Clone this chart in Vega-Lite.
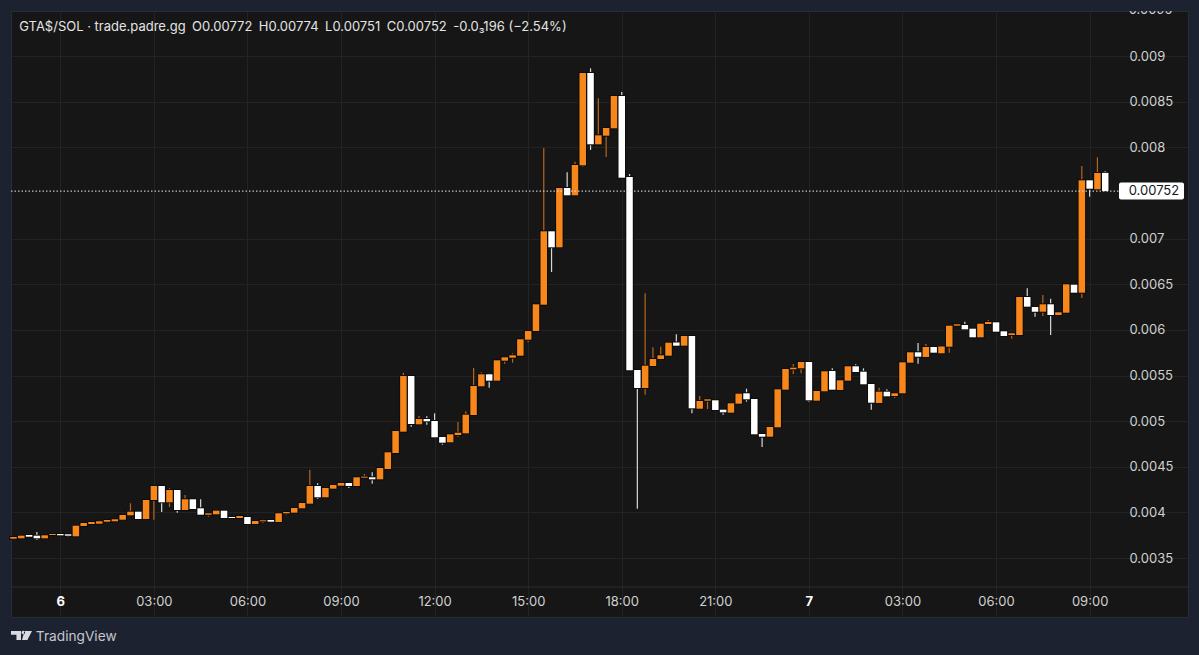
{
  "$schema": "https://vega.github.io/schema/vega-lite/v6.json",
  "width": 1177,
  "height": 606,
  "autosize": "none",
  "padding": {"left": 11, "top": 11, "right": 11, "bottom": 38},
  "background": "#1c2230",
  "view": {"fill": "#161616", "stroke": "#282c36"},
  "datasets": {
    "candles": [
      {"t":"2025-10-05T22:30:00Z","o":0.0037130,"h":0.0037426,"l":0.0037021,"c":0.0037317},
      {"t":"2025-10-05T22:45:00Z","o":0.0037174,"h":0.0037459,"l":0.0037174,"c":0.0037459},
      {"t":"2025-10-05T23:00:00Z","o":0.0037536,"h":0.0037536,"l":0.0037349,"c":0.0037349},
      {"t":"2025-10-05T23:15:00Z","o":0.0037459,"h":0.0037864,"l":0.0036988,"c":0.0037174},
      {"t":"2025-10-05T23:30:00Z","o":0.0037174,"h":0.0037503,"l":0.0037097,"c":0.0037503},
      {"t":"2025-10-05T23:45:00Z","o":0.0037536,"h":0.0037722,"l":0.0037503,"c":0.0037645},
      {"t":"2025-10-06T00:00:00Z","o":0.0037645,"h":0.0037645,"l":0.0037503,"c":0.0037503},
      {"t":"2025-10-06T00:15:00Z","o":0.0037612,"h":0.0037612,"l":0.0037349,"c":0.0037459},
      {"t":"2025-10-06T00:30:00Z","o":0.0037393,"h":0.0038554,"l":0.0037317,"c":0.0038554},
      {"t":"2025-10-06T00:45:00Z","o":0.0038521,"h":0.0038850,"l":0.0038521,"c":0.0038850},
      {"t":"2025-10-06T01:00:00Z","o":0.0038740,"h":0.0038959,"l":0.0038740,"c":0.0038959},
      {"t":"2025-10-06T01:15:00Z","o":0.0038773,"h":0.0039179,"l":0.0038740,"c":0.0039036},
      {"t":"2025-10-06T01:30:00Z","o":0.0038992,"h":0.0039179,"l":0.0038883,"c":0.0039179},
      {"t":"2025-10-06T01:45:00Z","o":0.0039036,"h":0.0039255,"l":0.0039036,"c":0.0039255},
      {"t":"2025-10-06T02:00:00Z","o":0.0039211,"h":0.0039726,"l":0.0039146,"c":0.0039726},
      {"t":"2025-10-06T02:15:00Z","o":0.0039693,"h":0.0041008,"l":0.0039649,"c":0.0040088},
      {"t":"2025-10-06T02:30:00Z","o":0.0040088,"h":0.0040088,"l":0.0039211,"c":0.0039288},
      {"t":"2025-10-06T02:45:00Z","o":0.0039288,"h":0.0041369,"l":0.0039211,"c":0.0041369},
      {"t":"2025-10-06T03:00:00Z","o":0.0041369,"h":0.0042903,"l":0.0039211,"c":0.0042903},
      {"t":"2025-10-06T03:15:00Z","o":0.0042903,"h":0.0043012,"l":0.0040055,"c":0.0041117},
      {"t":"2025-10-06T03:30:00Z","o":0.0041117,"h":0.0042651,"l":0.0040602,"c":0.0042464},
      {"t":"2025-10-06T03:45:00Z","o":0.0042464,"h":0.0042464,"l":0.0039978,"c":0.0040274},
      {"t":"2025-10-06T04:00:00Z","o":0.0040274,"h":0.0041917,"l":0.0040274,"c":0.0041446},
      {"t":"2025-10-06T04:15:00Z","o":0.0041446,"h":0.0041446,"l":0.0040383,"c":0.0040383},
      {"t":"2025-10-06T04:30:00Z","o":0.0040460,"h":0.0041446,"l":0.0039759,"c":0.0039759},
      {"t":"2025-10-06T04:45:00Z","o":0.0039759,"h":0.0039912,"l":0.0039540,"c":0.0039912},
      {"t":"2025-10-06T05:00:00Z","o":0.0039803,"h":0.0040274,"l":0.0039803,"c":0.0040197},
      {"t":"2025-10-06T05:15:00Z","o":0.0040197,"h":0.0040197,"l":0.0039398,"c":0.0039398},
      {"t":"2025-10-06T05:30:00Z","o":0.0039507,"h":0.0039617,"l":0.0039398,"c":0.0039398},
      {"t":"2025-10-06T05:45:00Z","o":0.0039398,"h":0.0039617,"l":0.0039398,"c":0.0039617},
      {"t":"2025-10-06T06:00:00Z","o":0.0039507,"h":0.0039507,"l":0.0038740,"c":0.0038740},
      {"t":"2025-10-06T06:15:00Z","o":0.0038740,"h":0.0039146,"l":0.0038740,"c":0.0039069},
      {"t":"2025-10-06T06:30:00Z","o":0.0039036,"h":0.0039255,"l":0.0038850,"c":0.0039146},
      {"t":"2025-10-06T06:45:00Z","o":0.0039179,"h":0.0039255,"l":0.0038927,"c":0.0038992},
      {"t":"2025-10-06T07:00:00Z","o":0.0038959,"h":0.0040022,"l":0.0038959,"c":0.0039912},
      {"t":"2025-10-06T07:15:00Z","o":0.0039912,"h":0.0040131,"l":0.0039759,"c":0.0040055},
      {"t":"2025-10-06T07:30:00Z","o":0.0039978,"h":0.0040493,"l":0.0039978,"c":0.0040493},
      {"t":"2025-10-06T07:45:00Z","o":0.0040460,"h":0.0041117,"l":0.0040460,"c":0.0041041},
      {"t":"2025-10-06T08:00:00Z","o":0.0040964,"h":0.0044688,"l":0.0040964,"c":0.0042903},
      {"t":"2025-10-06T08:15:00Z","o":0.0042903,"h":0.0043198,"l":0.0041479,"c":0.0041665},
      {"t":"2025-10-06T08:30:00Z","o":0.0041665,"h":0.0042760,"l":0.0041665,"c":0.0042683},
      {"t":"2025-10-06T08:45:00Z","o":0.0042607,"h":0.0043089,"l":0.0042607,"c":0.0043012},
      {"t":"2025-10-06T09:00:00Z","o":0.0042935,"h":0.0043308,"l":0.0042935,"c":0.0043231},
      {"t":"2025-10-06T09:15:00Z","o":0.0043231,"h":0.0043231,"l":0.0042683,"c":0.0042903},
      {"t":"2025-10-06T09:30:00Z","o":0.0042903,"h":0.0043855,"l":0.0042903,"c":0.0043855},
      {"t":"2025-10-06T09:45:00Z","o":0.0043812,"h":0.0044217,"l":0.0043812,"c":0.0043921},
      {"t":"2025-10-06T10:00:00Z","o":0.0043855,"h":0.0044403,"l":0.0043154,"c":0.0043636},
      {"t":"2025-10-06T10:15:00Z","o":0.0043636,"h":0.0044874,"l":0.0043636,"c":0.0044874},
      {"t":"2025-10-06T10:30:00Z","o":0.0044765,"h":0.0046594,"l":0.0044765,"c":0.0046594},
      {"t":"2025-10-06T10:45:00Z","o":0.0046517,"h":0.0048927,"l":0.0046517,"c":0.0048927},
      {"t":"2025-10-06T11:00:00Z","o":0.0048850,"h":0.0055312,"l":0.0048850,"c":0.0054951},
      {"t":"2025-10-06T11:15:00Z","o":0.0054951,"h":0.0055060,"l":0.0049398,"c":0.0049693},
      {"t":"2025-10-06T11:30:00Z","o":0.0049660,"h":0.0050570,"l":0.0049584,"c":0.0050241},
      {"t":"2025-10-06T11:45:00Z","o":0.0050241,"h":0.0050537,"l":0.0049617,"c":0.0049989},
      {"t":"2025-10-06T12:00:00Z","o":0.0050022,"h":0.0050865,"l":0.0048237,"c":0.0048237},
      {"t":"2025-10-06T12:15:00Z","o":0.0048270,"h":0.0048379,"l":0.0047426,"c":0.0047645},
      {"t":"2025-10-06T12:30:00Z","o":0.0047689,"h":0.0048565,"l":0.0047689,"c":0.0048565},
      {"t":"2025-10-06T12:45:00Z","o":0.0048489,"h":0.0049912,"l":0.0048302,"c":0.0048740},
      {"t":"2025-10-06T13:00:00Z","o":0.0048675,"h":0.0051084,"l":0.0048565,"c":0.0050712},
      {"t":"2025-10-06T13:15:00Z","o":0.0050679,"h":0.0055827,"l":0.0050679,"c":0.0053856},
      {"t":"2025-10-06T13:30:00Z","o":0.0053823,"h":0.0055356,"l":0.0053823,"c":0.0055137},
      {"t":"2025-10-06T13:45:00Z","o":0.0055137,"h":0.0055247,"l":0.0053669,"c":0.0054436},
      {"t":"2025-10-06T14:00:00Z","o":0.0054436,"h":0.0056670,"l":0.0054436,"c":0.0056670},
      {"t":"2025-10-06T14:15:00Z","o":0.0056627,"h":0.0056999,"l":0.0056298,"c":0.0056999},
      {"t":"2025-10-06T14:30:00Z","o":0.0056955,"h":0.0057437,"l":0.0056408,"c":0.0057218},
      {"t":"2025-10-06T14:45:00Z","o":0.0057174,"h":0.0058971,"l":0.0057174,"c":0.0058971},
      {"t":"2025-10-06T15:00:00Z","o":0.0058927,"h":0.0059880,"l":0.0058642,"c":0.0059880},
      {"t":"2025-10-06T15:15:00Z","o":0.0059880,"h":0.0062804,"l":0.0059880,"c":0.0062804},
      {"t":"2025-10-06T15:30:00Z","o":0.0062761,"h":0.0079923,"l":0.0062761,"c":0.0070800},
      {"t":"2025-10-06T15:45:00Z","o":0.0070800,"h":0.0070800,"l":0.0066342,"c":0.0069047},
      {"t":"2025-10-06T16:00:00Z","o":0.0069047,"h":0.0075619,"l":0.0069047,"c":0.0075542},
      {"t":"2025-10-06T16:15:00Z","o":0.0075542,"h":0.0077262,"l":0.0074743,"c":0.0074743},
      {"t":"2025-10-06T16:30:00Z","o":0.0074743,"h":0.0078423,"l":0.0074743,"c":0.0078062},
      {"t":"2025-10-06T16:45:00Z","o":0.0078029,"h":0.0088138,"l":0.0077875,"c":0.0088138},
      {"t":"2025-10-06T17:00:00Z","o":0.0088138,"h":0.0088653,"l":0.0079705,"c":0.0080328},
      {"t":"2025-10-06T17:15:00Z","o":0.0080328,"h":0.0085367,"l":0.0080328,"c":0.0081314},
      {"t":"2025-10-06T17:30:00Z","o":0.0081271,"h":0.0082114,"l":0.0078938,"c":0.0082114},
      {"t":"2025-10-06T17:45:00Z","o":0.0082081,"h":0.0085619,"l":0.0082081,"c":0.0085619},
      {"t":"2025-10-06T18:00:00Z","o":0.0085619,"h":0.0086057,"l":0.0076670,"c":0.0076670},
      {"t":"2025-10-06T18:15:00Z","o":0.0076747,"h":0.0077076,"l":0.0055575,"c":0.0055575},
      {"t":"2025-10-06T18:30:00Z","o":0.0055608,"h":0.0055608,"l":0.0040416,"c":0.0053636},
      {"t":"2025-10-06T18:45:00Z","o":0.0053636,"h":0.0064009,"l":0.0052903,"c":0.0056079},
      {"t":"2025-10-06T19:00:00Z","o":0.0056046,"h":0.0058094,"l":0.0056046,"c":0.0056813},
      {"t":"2025-10-06T19:15:00Z","o":0.0056813,"h":0.0058160,"l":0.0056813,"c":0.0057218},
      {"t":"2025-10-06T19:30:00Z","o":0.0057174,"h":0.0058598,"l":0.0057174,"c":0.0058598},
      {"t":"2025-10-06T19:45:00Z","o":0.0058620,"h":0.0059518,"l":0.0058270,"c":0.0058270},
      {"t":"2025-10-06T20:00:00Z","o":0.0058270,"h":0.0059332,"l":0.0058270,"c":0.0059332},
      {"t":"2025-10-06T20:15:00Z","o":0.0059332,"h":0.0059332,"l":0.0050865,"c":0.0051413},
      {"t":"2025-10-06T20:30:00Z","o":0.0051369,"h":0.0052760,"l":0.0051369,"c":0.0052213},
      {"t":"2025-10-06T20:45:00Z","o":0.0052245,"h":0.0052432,"l":0.0051336,"c":0.0052400},
      {"t":"2025-10-06T21:00:00Z","o":0.0052289,"h":0.0052289,"l":0.0051227,"c":0.0051227},
      {"t":"2025-10-06T21:15:00Z","o":0.0051260,"h":0.0051260,"l":0.0050712,"c":0.0050975},
      {"t":"2025-10-06T21:30:00Z","o":0.0050931,"h":0.0051961,"l":0.0050931,"c":0.0051961},
      {"t":"2025-10-06T21:45:00Z","o":0.0051917,"h":0.0053012,"l":0.0051917,"c":0.0053012},
      {"t":"2025-10-06T22:00:00Z","o":0.0053056,"h":0.0053560,"l":0.0052136,"c":0.0052399},
      {"t":"2025-10-06T22:15:00Z","o":0.0052432,"h":0.0052432,"l":0.0048565,"c":0.0048565},
      {"t":"2025-10-06T22:30:00Z","o":0.0048598,"h":0.0048598,"l":0.0047174,"c":0.0048302},
      {"t":"2025-10-06T22:45:00Z","o":0.0048302,"h":0.0049365,"l":0.0048302,"c":0.0049365},
      {"t":"2025-10-06T23:00:00Z","o":0.0049332,"h":0.0053494,"l":0.0049332,"c":0.0053494},
      {"t":"2025-10-06T23:15:00Z","o":0.0053450,"h":0.0055718,"l":0.0053450,"c":0.0055718},
      {"t":"2025-10-06T23:30:00Z","o":0.0055685,"h":0.0056265,"l":0.0055170,"c":0.0055860},
      {"t":"2025-10-06T23:45:00Z","o":0.0055794,"h":0.0056484,"l":0.0055247,"c":0.0056484},
      {"t":"2025-10-07T00:00:00Z","o":0.0056484,"h":0.0056484,"l":0.0052136,"c":0.0052289},
      {"t":"2025-10-07T00:15:00Z","o":0.0052245,"h":0.0053308,"l":0.0052245,"c":0.0053308},
      {"t":"2025-10-07T00:30:00Z","o":0.0053275,"h":0.0055465,"l":0.0053275,"c":0.0055465},
      {"t":"2025-10-07T00:45:00Z","o":0.0055498,"h":0.0055794,"l":0.0053450,"c":0.0053450},
      {"t":"2025-10-07T01:00:00Z","o":0.0053417,"h":0.0054480,"l":0.0053417,"c":0.0054480},
      {"t":"2025-10-07T01:15:00Z","o":0.0054436,"h":0.0056013,"l":0.0054436,"c":0.0056013},
      {"t":"2025-10-07T01:30:00Z","o":0.0056013,"h":0.0056232,"l":0.0055389,"c":0.0055389},
      {"t":"2025-10-07T01:45:00Z","o":0.0055422,"h":0.0055794,"l":0.0054042,"c":0.0054042},
      {"t":"2025-10-07T02:00:00Z","o":0.0054075,"h":0.0054075,"l":0.0051260,"c":0.0052026},
      {"t":"2025-10-07T02:15:00Z","o":0.0051993,"h":0.0053669,"l":0.0051993,"c":0.0053231},
      {"t":"2025-10-07T02:30:00Z","o":0.0053231,"h":0.0053494,"l":0.0052727,"c":0.0052727},
      {"t":"2025-10-07T02:45:00Z","o":0.0052760,"h":0.0053056,"l":0.0052541,"c":0.0053056},
      {"t":"2025-10-07T03:00:00Z","o":0.0053056,"h":0.0056451,"l":0.0053056,"c":0.0056451},
      {"t":"2025-10-07T03:15:00Z","o":0.0056408,"h":0.0057547,"l":0.0056408,"c":0.0057547},
      {"t":"2025-10-07T03:30:00Z","o":0.0057547,"h":0.0058565,"l":0.0056298,"c":0.0057065},
      {"t":"2025-10-07T03:45:00Z","o":0.0057032,"h":0.0058456,"l":0.0057032,"c":0.0058127},
      {"t":"2025-10-07T04:00:00Z","o":0.0058127,"h":0.0058127,"l":0.0057503,"c":0.0057503},
      {"t":"2025-10-07T04:15:00Z","o":0.0057437,"h":0.0058182,"l":0.0057360,"c":0.0058182},
      {"t":"2025-10-07T04:30:00Z","o":0.0058160,"h":0.0060537,"l":0.0057503,"c":0.0060460},
      {"t":"2025-10-07T04:45:00Z","o":0.0060460,"h":0.0060679,"l":0.0060405,"c":0.0060614},
      {"t":"2025-10-07T05:00:00Z","o":0.0060537,"h":0.0060898,"l":0.0060066,"c":0.0060066},
      {"t":"2025-10-07T05:15:00Z","o":0.0060132,"h":0.0060132,"l":0.0059190,"c":0.0059190},
      {"t":"2025-10-07T05:30:00Z","o":0.0059190,"h":0.0060679,"l":0.0059190,"c":0.0060679},
      {"t":"2025-10-07T05:45:00Z","o":0.0060646,"h":0.0061084,"l":0.0060646,"c":0.0060865},
      {"t":"2025-10-07T06:00:00Z","o":0.0060832,"h":0.0060832,"l":0.0059803,"c":0.0059803},
      {"t":"2025-10-07T06:15:00Z","o":0.0059847,"h":0.0059847,"l":0.0059332,"c":0.0059332},
      {"t":"2025-10-07T06:30:00Z","o":0.0059441,"h":0.0059770,"l":0.0059036,"c":0.0059627},
      {"t":"2025-10-07T06:45:00Z","o":0.0059441,"h":0.0063604,"l":0.0059441,"c":0.0063604},
      {"t":"2025-10-07T07:00:00Z","o":0.0063604,"h":0.0064556,"l":0.0062542,"c":0.0062542},
      {"t":"2025-10-07T07:15:00Z","o":0.0062508,"h":0.0062508,"l":0.0061446,"c":0.0061993},
      {"t":"2025-10-07T07:30:00Z","o":0.0061993,"h":0.0063823,"l":0.0061522,"c":0.0062804},
      {"t":"2025-10-07T07:45:00Z","o":0.0062804,"h":0.0063417,"l":0.0059441,"c":0.0061632},
      {"t":"2025-10-07T08:00:00Z","o":0.0061632,"h":0.0061928,"l":0.0061632,"c":0.0061928},
      {"t":"2025-10-07T08:15:00Z","o":0.0061884,"h":0.0064995,"l":0.0061884,"c":0.0064995},
      {"t":"2025-10-07T08:30:00Z","o":0.0064952,"h":0.0064952,"l":0.0064075,"c":0.0064075},
      {"t":"2025-10-07T08:45:00Z","o":0.0064075,"h":0.0077952,"l":0.0063494,"c":0.0076386},
      {"t":"2025-10-07T09:00:00Z","o":0.0076386,"h":0.0076386,"l":0.0074590,"c":0.0075466},
      {"t":"2025-10-07T09:15:00Z","o":0.0075400,"h":0.0078905,"l":0.0075400,"c":0.0077185},
      {"t":"2025-10-07T09:30:00Z","o":0.00772,"h":0.00774,"l":0.00751,"c":0.00752}
    ],
    "notes": [
      {"t":"2025-10-07T10:15:10Z","p":0.0095,"label":"0.0095"}
    ]
  },
  "encoding": {
    "x": {
      "field": "t",
      "type": "temporal",
      "title": null,
      "scale": {"type": "utc", "domain": ["2025-10-05T22:25:12Z", "2025-10-07T12:09:14Z"], "nice": false, "padding": 0},
      "axis": {
        "orient": "bottom",
        "offset": -30,
        "values": ["2025-10-06T00:00:00Z","2025-10-06T03:00:00Z","2025-10-06T06:00:00Z","2025-10-06T09:00:00Z","2025-10-06T12:00:00Z","2025-10-06T15:00:00Z","2025-10-06T18:00:00Z","2025-10-06T21:00:00Z","2025-10-07T00:00:00Z","2025-10-07T03:00:00Z","2025-10-07T06:00:00Z","2025-10-07T09:00:00Z"],
        "labelExpr": "utchours(datum.value) == 0 ? utcFormat(datum.value, '%-d') : utcFormat(datum.value, '%H:%M')",
        "labelFontWeight": {"expr": "utchours(datum.value) == 0 ? 'bold' : 'normal'"},
        "labelColor": {"expr": "utchours(datum.value) == 0 ? '#ffffff' : '#d0d0d0'"},
        "labelFont": "Inter",
        "labelFontSize": 13,
        "labelPadding": 8,
        "labelOverlap": false,
        "labelFlush": false,
        "ticks": false,
        "domain": false,
        "grid": true,
        "gridColor": "#232323",
        "gridWidth": 1.2
      }
    },
    "y": {
      "field": "c",
      "type": "quantitative",
      "title": null,
      "scale": {"domain": [0.0028554, 0.0094929], "nice": false, "zero": false},
      "axis": {
        "orient": "right",
        "offset": -68,
        "values": [0.0035, 0.004, 0.0045, 0.005, 0.0055, 0.006, 0.0065, 0.007, 0.008, 0.0085, 0.009],
        "format": "~g",
        "labelColor": "#d0d0d0",
        "labelFont": "Inter",
        "labelFontSize": 13,
        "labelPadding": 9,
        "labelOverlap": false,
        "labelBound": false,
        "ticks": false,
        "domain": false,
        "grid": true,
        "gridColor": "#232323",
        "gridWidth": 1.2
      }
    }
  },
  "layer": [
    {
      "data": {"values": [{"p": 0.003184, "t": "2025-10-05T22:25:12Z", "t2": "2025-10-07T12:09:14Z"}]},
      "mark": {"type": "rule", "color": "#2a2c32", "strokeWidth": 1.2},
      "encoding": {
        "x": {"field": "t", "type": "temporal"},
        "x2": {"field": "t2"},
        "y": {"field": "p", "type": "quantitative"}
      }
    },
    {
      "data": {"name": "candles"},
      "mark": {"type": "rule", "strokeWidth": 1.2},
      "encoding": {
        "y": {"field": "h", "type": "quantitative"},
        "y2": {"field": "l"},
        "color": {"condition": {"test": "datum.c >= datum.o", "value": "#b8651c"}, "value": "#d8d8d8"}
      }
    },
    {
      "data": {"name": "candles"},
      "mark": {"type": "bar", "size": 6.5, "color": "#0c0c0c", "stroke": "#0c0c0c", "strokeWidth": 2},
      "encoding": {
        "y": {"field": "o", "type": "quantitative"},
        "y2": {"field": "c"}
      }
    },
    {
      "data": {"name": "candles"},
      "mark": {"type": "bar", "size": 6.5},
      "encoding": {
        "y": {"field": "o", "type": "quantitative"},
        "y2": {"field": "c"},
        "color": {"condition": {"test": "datum.c >= datum.o", "value": "#f7861b"}, "value": "#ffffff"}
      }
    },
    {
      "data": {"values": [{"t": "2025-10-05T22:25:12Z", "t2": "2025-10-07T09:56:32Z", "p": 0.00752}]},
      "mark": {"type": "rule", "color": "#e8e8e8", "strokeWidth": 1, "strokeDash": [1.5, 2]},
      "encoding": {
        "x": {"field": "t", "type": "temporal"},
        "x2": {"field": "t2"},
        "y": {"field": "p", "type": "quantitative"}
      }
    },
    {
      "data": {"values": [{"t": "2025-10-07T09:56:32Z", "t2": "2025-10-07T12:01:32Z", "p": 0.0076145, "p2": 0.0074283}]},
      "mark": {"type": "rect", "fill": "#ffffff", "cornerRadius": 2},
      "encoding": {
        "x": {"field": "t", "type": "temporal"},
        "x2": {"field": "t2"},
        "y": {"field": "p", "type": "quantitative"},
        "y2": {"field": "p2"}
      }
    },
    {
      "data": {"values": [{"t": "2025-10-07T10:15:10Z", "p": 0.00752, "label": "0.00752"}]},
      "mark": {"type": "text", "align": "left", "baseline": "middle", "font": "Inter", "fontSize": 13, "color": "#131722"},
      "encoding": {
        "x": {"field": "t", "type": "temporal"},
        "y": {"field": "p", "type": "quantitative"},
        "text": {"field": "label"}
      }
    },
    {
      "data": {"name": "notes"},
      "mark": {"type": "text", "align": "left", "baseline": "middle", "font": "Inter", "fontSize": 13, "color": "#d0d0d0", "clip": true},
      "encoding": {
        "x": {"field": "t", "type": "temporal"},
        "y": {"field": "p", "type": "quantitative"},
        "text": {"field": "label"}
      }
    },
    {
      "data": {"values": [{"t": "2025-10-05T22:41:09Z", "p": 0.0093177, "label": "GTA$/SOL · trade.padre.gg\u2002O0.00772\u2002H0.00774\u2002L0.00751\u2002C0.00752\u2002-0.0₃196 (−2.54%)"}]},
      "mark": {"type": "text", "align": "left", "baseline": "middle", "font": "Inter", "fontSize": 13, "color": "#e4e4e4"},
      "encoding": {
        "x": {"field": "t", "type": "temporal"},
        "y": {"field": "p", "type": "quantitative"},
        "text": {"field": "label"}
      }
    },
    {
      "data": {"values": [{"t": "2025-10-05T23:13:00Z", "p": 0.002637, "label": "TradingView"}]},
      "mark": {"type": "text", "align": "left", "baseline": "middle", "font": "Inter", "fontSize": 13.7, "color": "#c4c7cf"},
      "encoding": {
        "x": {"field": "t", "type": "temporal"},
        "y": {"field": "p", "type": "quantitative"},
        "text": {"field": "label"}
      }
    },
    {
      "data": {"values": [{"t": "2025-10-05T22:45:24Z", "p": 0.0026506}]},
      "mark": {
        "type": "point",
        "filled": true,
        "opacity": 1,
        "color": "#d8dae0",
        "shape": "M-1 -.44H-.05V.42H-.48V-.1H-1ZM.0 -.3a.17 .17 0 1 0 .34 0a.17 .17 0 1 0 -.34 0ZM.28 -.44H1L.56 .42H.05Z"
      },
      "encoding": {
        "x": {"field": "t", "type": "temporal"},
        "y": {"field": "p", "type": "quantitative"},
        "size": {"value": 441}
      }
    }
  ]
}
